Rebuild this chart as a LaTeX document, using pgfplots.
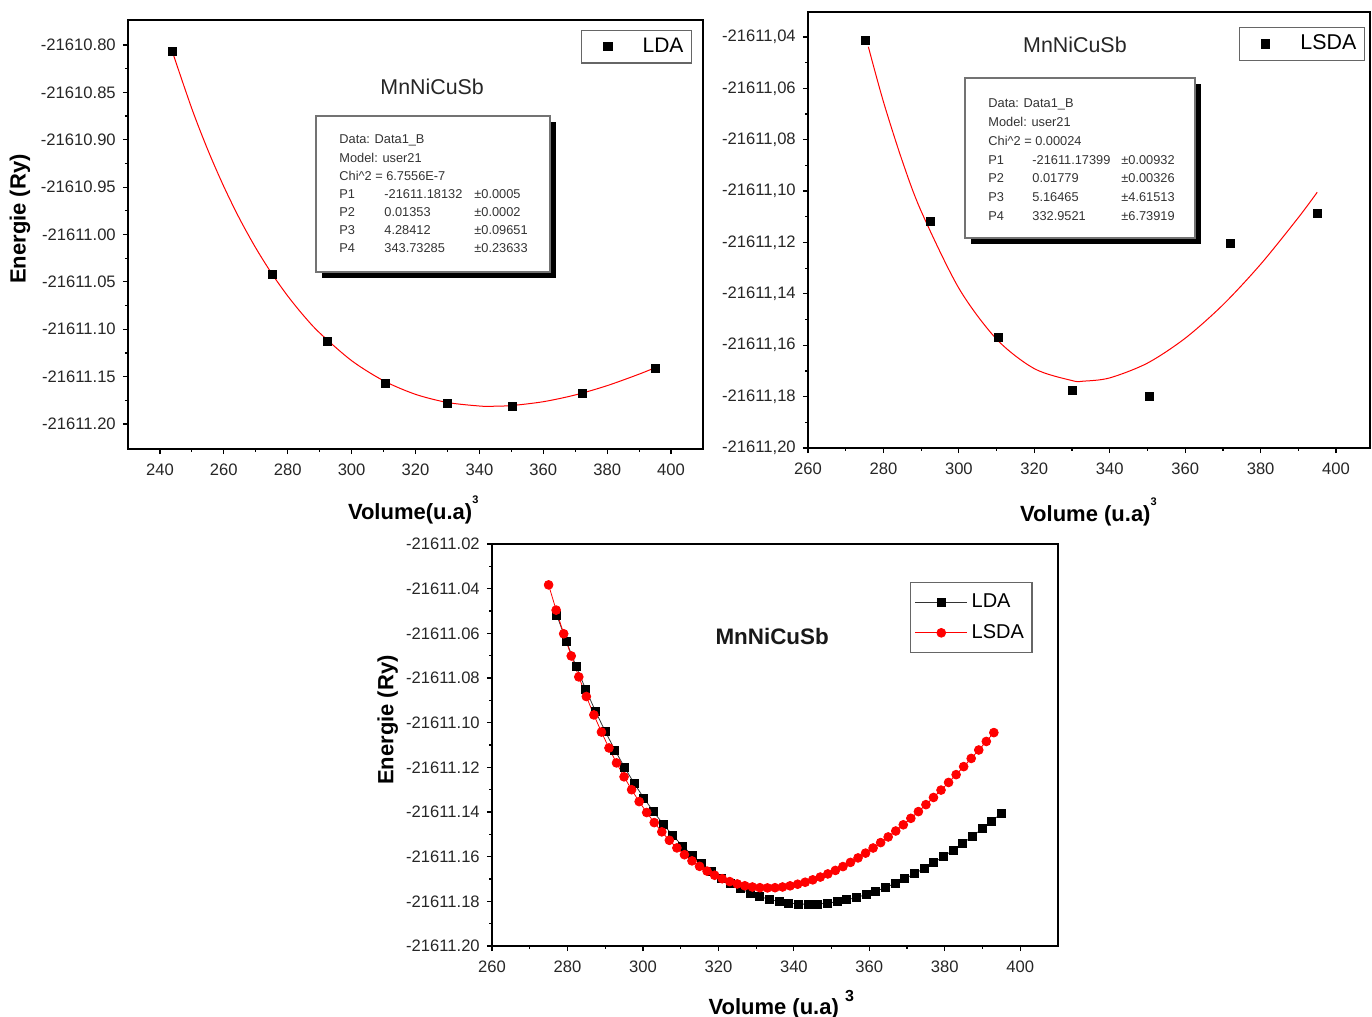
\documentclass[border=0pt]{standalone}
\usepackage{fontspec}
\setmainfont{Liberation Sans}
\usepackage{pgfplots}
\pgfplotsset{compat=1.18}

\pgfplotsset{
  orig/.style={
    scale only axis,
    anchor=south west,
    axis line style={black, line width=0.7pt},
    tick align=outside,
    tick pos=left,
    major tick length=2.6pt,
    minor tick length=1.5pt,
    minor tick num=1,
    tick style={black, line width=0.6pt},
    tick label style={font=\fontsize{8.3}{10}\selectfont, text=black!85},
    xticklabel style={yshift=-1.5pt},
    /pgf/number format/assume math mode=true,
    label style={font=\fontsize{11}{13}\selectfont\bfseries},
    legend cell align=left,
  },
  marklegend/.style={
    legend image code/.code={\path (0pt,0pt) (26pt,0pt); \draw[##1] plot coordinates {(11pt,0pt)};},
  },
}

\begin{document}
\begin{tikzpicture}
\useasboundingbox (0pt,0pt) rectangle (686pt,508.5pt);

% ---------------- top left: LDA ----------------
\begin{axis}[orig, marklegend,
  at={(64pt,284pt)}, width=287.5pt, height=214.5pt,
  xmin=230, xmax=410, ymin=-0.2264, ymax=0.2264,
  xtick={240,260,280,300,320,340,360,380,400},
  ytick={-0.20,-0.15,-0.10,-0.05,0,0.05,0.10,0.15,0.20},
  yticklabels={-21611.20,-21611.15,-21611.10,-21611.05,-21611.00,-21610.95,-21610.90,-21610.85,-21610.80},
  xlabel={Volume(u.a)\raisebox{0.75em}{\fontsize{5.5}{6}\selectfont 3}},
  xlabel style={at={(axis description cs:0.496,-0.142)}, anchor=center},
  ylabel={Energie (Ry)},
  ylabel style={at={(axis description cs:-0.188,0.536)}, anchor=center},
  legend style={at={(axis description cs:0.981,0.977)}, anchor=north east,
    draw=black!60, line width=0.6pt, font=\fontsize{10.5}{12}\selectfont,
    inner xsep=2pt, inner ysep=1.8pt},
]
\addplot[red, line width=0.5pt, smooth, forget plot] coordinates {
 (243.9,0.1928) (250,0.13263) (255,0.08917) (260,0.05056) (265,0.01617)
 (270,-0.01425) (275,-0.04119) (280,-0.06491) (285,-0.08574) (290,-0.10389)
 (300,-0.13317) (310,-0.15434) (320,-0.16871) (330,-0.17732) (340,-0.18104)
 (343.7,-0.18132) (350,-0.18057) (360,-0.17650) (370,-0.16937) (380,-0.15954)
 (390,-0.14740) (395,-0.14056)};
\addplot[only marks, mark=square*, mark size=2pt, black] coordinates {
 (243.9,0.1937) (275.1,-0.0417) (292.4,-0.1124) (310.6,-0.1567)
 (330.0,-0.1778) (350.4,-0.1810) (372.1,-0.1673) (395.0,-0.1409)};
\addlegendentry{LDA}
\node[font=\fontsize{10.7}{12}\selectfont, text=black!85] at (axis description cs:0.529,0.844) {MnNiCuSb};
\end{axis}

% ---------------- top right: LSDA ----------------
\begin{axis}[orig, marklegend,
  at={(404pt,284.5pt)}, width=281pt, height=218pt,
  xmin=260, xmax=409, ymin=-0.2, ymax=-0.0303,
  xtick={260,280,300,320,340,360,380,400},
  ytick={-0.20,-0.18,-0.16,-0.14,-0.12,-0.10,-0.08,-0.06,-0.04},
  yticklabels={{-21611,20},{-21611,18},{-21611,16},{-21611,14},{-21611,12},{-21611,10},{-21611,08},{-21611,06},{-21611,04}},
  xlabel={Volume (u.a)\raisebox{0.75em}{\fontsize{5.5}{6}\selectfont 3}},
  xlabel style={at={(axis description cs:0.499,-0.147)}, anchor=center},
  legend style={at={(axis description cs:0.991,0.966)}, anchor=north east,
    draw=black!60, line width=0.6pt, font=\fontsize{10.7}{12}\selectfont,
    inner xsep=2pt, inner ysep=1.8pt},
]
\addplot[red, line width=0.5pt, smooth, forget plot] coordinates {
 (276,-0.04385) (280,-0.06524) (285,-0.08829) (290,-0.10782) (300,-0.13783)
 (310,-0.15764) (320,-0.16912) (330,-0.17376) (333,-0.17399) (340,-0.17272)
 (350,-0.16696) (360,-0.15728) (370,-0.14429) (380,-0.12849) (390,-0.11033)
 (395,-0.10047)};
\addplot[only marks, mark=square*, mark size=2pt, black] coordinates {
 (275.1,-0.0412) (292.4,-0.1120) (310.6,-0.1568) (330.0,-0.1774)
 (350.4,-0.1801) (371.9,-0.1202) (395.0,-0.1085)};
\addlegendentry{LSDA}
\node[font=\fontsize{10.7}{12}\selectfont, text=black!85] at (axis description cs:0.475,0.924) {MnNiCuSb};
\end{axis}

% ---------------- bottom: both ----------------
\begin{axis}[orig,
  at={(246pt,35.5pt)}, width=283pt, height=201pt,
  xmin=260, xmax=410, ymin=-0.2, ymax=-0.02,
  xtick={260,280,300,320,340,360,380,400},
  ytick={-0.20,-0.18,-0.16,-0.14,-0.12,-0.10,-0.08,-0.06,-0.04,-0.02},
  yticklabels={-21611.20,-21611.18,-21611.16,-21611.14,-21611.12,-21611.10,-21611.08,-21611.06,-21611.04,-21611.02},
  xlabel={Volume (u.a) \raisebox{0.6em}{\fontsize{8}{9}\selectfont 3}},
  xlabel style={at={(axis description cs:0.511,-0.147)}, anchor=center},
  ylabel={Energie (Ry)},
  ylabel style={at={(axis description cs:-0.184,0.562)}, anchor=center},
  legend style={at={(axis description cs:0.955,0.906)}, anchor=north east,
    draw=black!60, line width=0.6pt, font=\fontsize{10}{12}\selectfont,
    inner xsep=2pt, inner ysep=3.6pt, row sep=3pt},
  legend image code/.code={\draw[mark repeat=2, mark phase=2, #1] plot coordinates {(0pt,0pt) (13pt,0pt) (26pt,0pt)};},
]
\addplot[black!80, line width=0.4pt, mark=square*, mark size=2pt, mark options={black}] coordinates {
 (277.19,-0.05198) (279.75,-0.06380) (282.32,-0.07491)
 (284.88,-0.08527) (287.44,-0.09493) (290.00,-0.10389) (292.56,-0.11223)
 (295.12,-0.11999) (297.68,-0.12717) (300.24,-0.13377) (302.80,-0.13985)
 (305.36,-0.14544) (307.93,-0.15057) (310.49,-0.15519) (313.05,-0.15939)
 (315.61,-0.16318) (318.17,-0.16655) (320.73,-0.16952) (323.29,-0.17213)
 (325.85,-0.17439) (328.41,-0.17631) (330.97,-0.17788) (333.54,-0.17916)
 (336.10,-0.18013) (338.66,-0.18081) (341.22,-0.18119) (343.78,-0.18132)
 (346.34,-0.18119) (348.90,-0.18081) (351.46,-0.18018) (354.02,-0.17933)
 (356.58,-0.17827) (359.15,-0.17697) (361.71,-0.17549) (364.27,-0.17381)
 (366.83,-0.17194) (369.39,-0.16989) (371.95,-0.16765) (374.51,-0.16525)
 (377.07,-0.16268) (379.63,-0.15995) (382.19,-0.15707) (384.76,-0.15403)
 (387.32,-0.15087) (389.88,-0.14755) (392.44,-0.14412) (395.00,-0.14056)};
\addlegendentry{LDA}
\addplot[red, line width=0.4pt, mark=*, mark size=2.2pt, mark options={red}] coordinates {
 (275,-0.03831) (277,-0.04960) (279,-0.06020) (281,-0.07013) (283,-0.07950)
 (285,-0.08829) (287,-0.09653) (289,-0.10420) (291,-0.11133) (293,-0.11802)
 (295,-0.12425) (297,-0.13002) (299,-0.13534) (301,-0.14023) (303,-0.14475)
 (305,-0.14889) (307,-0.15267) (309,-0.15608) (311,-0.15913) (313,-0.16188)
 (315,-0.16433) (317,-0.16647) (319,-0.16831) (321,-0.16987) (323,-0.17117)
 (325,-0.17222) (327,-0.17303) (329,-0.17358) (331,-0.17389) (333,-0.17399)
 (335,-0.17389) (337,-0.17358) (339,-0.17306) (341,-0.17234) (343,-0.17145)
 (345,-0.17038) (347,-0.16914) (349,-0.16773) (351,-0.16616) (353,-0.16444)
 (355,-0.16257) (357,-0.16056) (359,-0.15841) (361,-0.15612) (363,-0.15370)
 (365,-0.15117) (367,-0.14851) (369,-0.14573) (371,-0.14283) (373,-0.13982)
 (375,-0.13671) (377,-0.13350) (379,-0.13019) (381,-0.12677) (383,-0.12327)
 (385,-0.11968) (387,-0.11601) (389,-0.11224) (391,-0.10841) (393,-0.10445)};
\addlegendentry{LSDA}
\node[font=\fontsize{11.2}{13}\selectfont\bfseries, text=black!90] at (axis description cs:0.495,0.769) {MnNiCuSb};
\end{axis}

% ---------------- fit parameter boxes ----------------
\begin{scope}[every node/.style={font=\fontsize{6.4}{7}\selectfont, text=black!80, anchor=west, inner sep=0pt}]
% top left box
\fill[black] (161pt,447.5pt) rectangle (278pt,369.5pt);
\filldraw[fill=white, draw=black!55, line width=0.6pt] (158pt,450.5pt) rectangle (275pt,372.5pt);
\node at (169.5pt,438.5pt) {Data: Data1\_B};
\node at (169.5pt,429.5pt) {Model: user21};
\node at (169.5pt,420.5pt) {Chi\textasciicircum 2 = 6.7556E-7};
\node at (169.5pt,411.5pt) {P1}; \node at (192pt,411.5pt) {-21611.18132}; \node at (237pt,411.5pt) {±0.0005};
\node at (169.5pt,402.5pt) {P2}; \node at (192pt,402.5pt) {0.01353}; \node at (237pt,402.5pt) {±0.0002};
\node at (169.5pt,393.5pt) {P3}; \node at (192pt,393.5pt) {4.28412}; \node at (237pt,393.5pt) {±0.09651};
\node at (169.5pt,384.5pt) {P4}; \node at (192pt,384.5pt) {343.73285}; \node at (237pt,384.5pt) {±0.23633};
% top right box
\fill[black] (485.5pt,466.5pt) rectangle (600.5pt,386.5pt);
\filldraw[fill=white, draw=black!55, line width=0.6pt] (482.5pt,469.5pt) rectangle (597.5pt,389.5pt);
\node at (494pt,456.5pt) {Data: Data1\_B};
\node at (494pt,447.5pt) {Model: user21};
\node at (494pt,438pt) {Chi\textasciicircum 2 = 0.00024};
\node at (494pt,428.5pt) {P1}; \node at (516pt,428.5pt) {-21611.17399}; \node at (560.5pt,428.5pt) {±0.00932};
\node at (494pt,419.5pt) {P2}; \node at (516pt,419.5pt) {0.01779}; \node at (560.5pt,419.5pt) {±0.00326};
\node at (494pt,410pt) {P3}; \node at (516pt,410pt) {5.16465}; \node at (560.5pt,410pt) {±4.61513};
\node at (494pt,400.5pt) {P4}; \node at (516pt,400.5pt) {332.9521}; \node at (560.5pt,400.5pt) {±6.73919};
\end{scope}
\end{tikzpicture}
\end{document}
